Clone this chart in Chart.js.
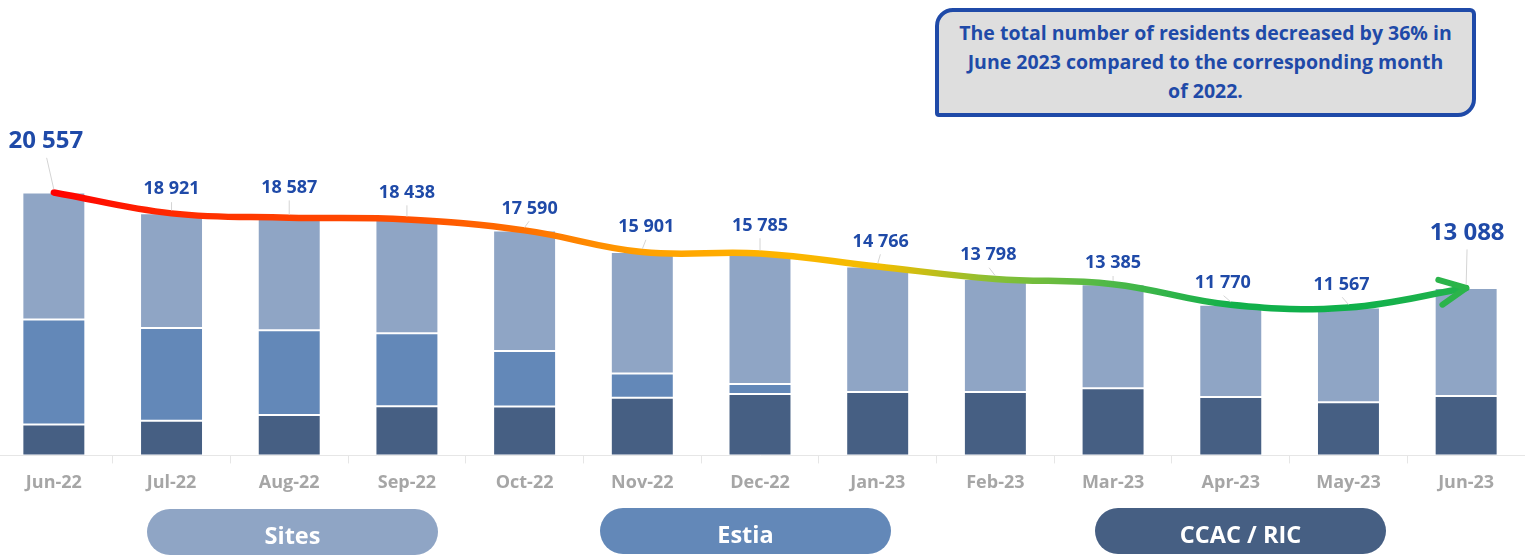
<!DOCTYPE html>
<html>
<head>
<meta charset="utf-8">
<script src="https://cdn.jsdelivr.net/npm/chart.js@4.4.1/dist/chart.umd.min.js"></script>
<style>
    html, body { margin: 0; padding: 0; background: #fff; }
    body { width: 1530px; height: 557px; position: relative; overflow: hidden; font-family: "Open Sans", "Noto Sans", sans-serif; }
    #wrap { position: absolute; left: -5px; top: 0; width: 1530px; height: 557px; }
    .note {
        position: absolute; left: 935px; top: 8px; width: 533px; height: 95px;
        background: #dedede; border: 4px solid #1f4aa8;
        border-radius: 18px 6px 18px 4px;
        color: #1f4aa8; font-weight: 700; font-size: 19.5px; line-height: 29px;
        text-align: center; padding-top: 6px; box-sizing: content-box;
        white-space: nowrap;
    }
    .pill {
        position: absolute; height: 46px; width: 291px; border-radius: 23px;
        color: #fff; font-weight: 700; font-size: 23.5px; line-height: 52px; text-align: center;
        overflow: hidden;
    }
</style>
</head>
<body>
<div id="wrap"><canvas id="residentsChart"></canvas></div>
<div class="note">The total number of residents decreased by 36% in<br>June 2023 compared to the corresponding month<br>of 2022.</div>
<div class="pill" style="left:147px; top:509px; background:#8fa5c5;">Sites</div>
<div class="pill" style="left:600px; top:508px; background:#6388b8;">Estia</div>
<div class="pill" style="left:1095px; top:508px; background:#465f83;">CCAC / RIC</div>
<script>
const months = ['Jun-22', 'Jul-22', 'Aug-22', 'Sep-22', 'Oct-22', 'Nov-22', 'Dec-22', 'Jan-23', 'Feb-23', 'Mar-23', 'Apr-23', 'May-23', 'Jun-23'];
const ccacRic = [2420, 2715, 3154, 3834, 3830, 4515, 4797, 4953, 4950, 5243, 4562, 4147, 4640];
const estia = [8200, 7246, 6628, 5712, 4327, 1878, 783, 0, 0, 0, 0, 0, 0];
const sites = [9937, 8960, 8805, 8892, 9433, 9508, 10205, 9813, 8848, 8142, 7208, 7420, 8448];
const totals = [20557, 18921, 18587, 18438, 17590, 15901, 15785, 14766, 13798, 13385, 11770, 11567, 13088];

// where each total label sits, relative to its point
const labelShift = [[-8, -52], [0, -25], [0, -31], [0, -28], [5, -23], [4, -26], [0, -29], [3, -26], [-7, -25], [0, -22], [-8, -23], [-7, -24], [1, -56]];
const lineColors = ['#ff0000', '#ff2a00', '#ff4000', '#ff4f00', '#ff7000', '#ffa000', '#ffb200', '#f3bd00', '#86bf36', '#4db848', '#12b04b', '#0fb04b', '#22b34c'];
const labelBlue = '#1f4aa8';

function formatNumber(v) {
    return v.toString().replace(/\B(?=(\d{3})+(?!\d))/g, ' ');
}

function lineGradient(context) {
    const chart = context.chart;
    const area = chart.chartArea;
    if (!area) return '#ff0000';
    const xScale = chart.scales.x;
    const first = xScale.getPixelForValue(0);
    const last = xScale.getPixelForValue(months.length - 1);
    const g = chart.ctx.createLinearGradient(first, 0, last, 0);
    lineColors.forEach((c, i) => {
        g.addColorStop((xScale.getPixelForValue(i) - first) / (last - first), c);
    });
    return g;
}

/**
 * total labels with their small leader lines, plus the arrow head at the end of the line
 */
const totalsPlugin = {
    id: 'totalsPlugin',
    afterDatasetsDraw(chart) {
        const ctx = chart.ctx;
        const meta = chart.getDatasetMeta(3);
        const pts = meta.data;

        // arrow head
        const tip = pts[pts.length - 1];
        const ang = Math.atan2(tip.y - tip.cp1y, tip.x - tip.cp1x);
        ctx.save();
        ctx.strokeStyle = '#2bb44a';
        ctx.lineWidth = 6;
        ctx.lineCap = 'round';
        ctx.lineJoin = 'round';
        ctx.beginPath();
        ctx.moveTo(tip.x + 29 * Math.cos(ang + Math.PI - 0.45), tip.y + 29 * Math.sin(ang + Math.PI - 0.45));
        ctx.lineTo(tip.x, tip.y);
        ctx.lineTo(tip.x + 29 * Math.cos(ang + Math.PI + 0.45), tip.y + 29 * Math.sin(ang + Math.PI + 0.45));
        ctx.stroke();
        ctx.restore();

        pts.forEach((p, i) => {
            const big = (i === 0 || i === pts.length - 1);
            const size = big ? 24 : 18;
            const tx = p.x + labelShift[i][0];
            const ty = p.y + labelShift[i][1] + 1;
            ctx.save();
            ctx.strokeStyle = '#d4d4d4';
            ctx.lineWidth = 1;
            ctx.beginPath();
            ctx.moveTo(tx + (p.x - tx) * 0.1, ty + size * 0.6 + 2);
            ctx.lineTo(p.x, p.y - 3);
            ctx.stroke();
            ctx.fillStyle = labelBlue;
            ctx.font = '700 ' + size + 'px "Open Sans", sans-serif';
            ctx.textAlign = 'center';
            ctx.textBaseline = 'middle';
            ctx.fillText(formatNumber(totals[i]), tx, ty);
            ctx.restore();
        });
    }
};

function initializeChart() {
    const canvas = document.querySelector('#residentsChart');
    const barStyle = {
        type: 'bar',
        stack: 'bars',
        borderColor: 'rgba(255,255,255,0.35)',
        borderWidth: 1,
        borderSkipped: false,
        barPercentage: 0.535,
        categoryPercentage: 1,
        order: 1
    };

    new Chart(canvas, {
        data: {
            labels: months,
            datasets: [
                Object.assign({label: 'CCAC / RIC', data: ccacRic, backgroundColor: '#465f83'}, barStyle),
                Object.assign({label: 'Estia', data: estia, backgroundColor: '#6388b8'}, barStyle),
                Object.assign({label: 'Sites', data: sites, backgroundColor: '#8fa5c5'}, barStyle),
                {
                    type: 'line',
                    label: 'Total',
                    stack: 'total',
                    data: totals,
                    borderColor: lineGradient,
                    borderWidth: 6.5,
                    borderCapStyle: 'round',
                    pointRadius: 0,
                    tension: 0.4,
                    fill: false,
                    order: 0
                }
            ]
        },
        options: {
            responsive: true,
            maintainAspectRatio: false,
            animation: false,
            layout: {
                padding: {top: 0, left: 0, right: 0, bottom: 54}
            },
            plugins: {
                legend: {display: false},
                tooltip: {enabled: false}
            },
            scales: {
                x: {
                    stacked: true,
                    grid: {
                        display: true,
                        drawOnChartArea: false,
                        drawTicks: true,
                        tickLength: 8,
                        color: '#e6e6e6'
                    },
                    border: {display: true, color: '#e6e6e6'},
                    ticks: {
                        color: '#a6a6a6',
                        padding: 9,
                        font: {family: '"Open Sans", sans-serif', weight: 'bold', size: 18}
                    }
                },
                y: {
                    stacked: true,
                    display: false,
                    min: 0,
                    max: 35600
                }
            }
        },
        plugins: [totalsPlugin]
    });
}

document.addEventListener('DOMContentLoaded', () => {
    initializeChart();
});
</script>
</body>
</html>
